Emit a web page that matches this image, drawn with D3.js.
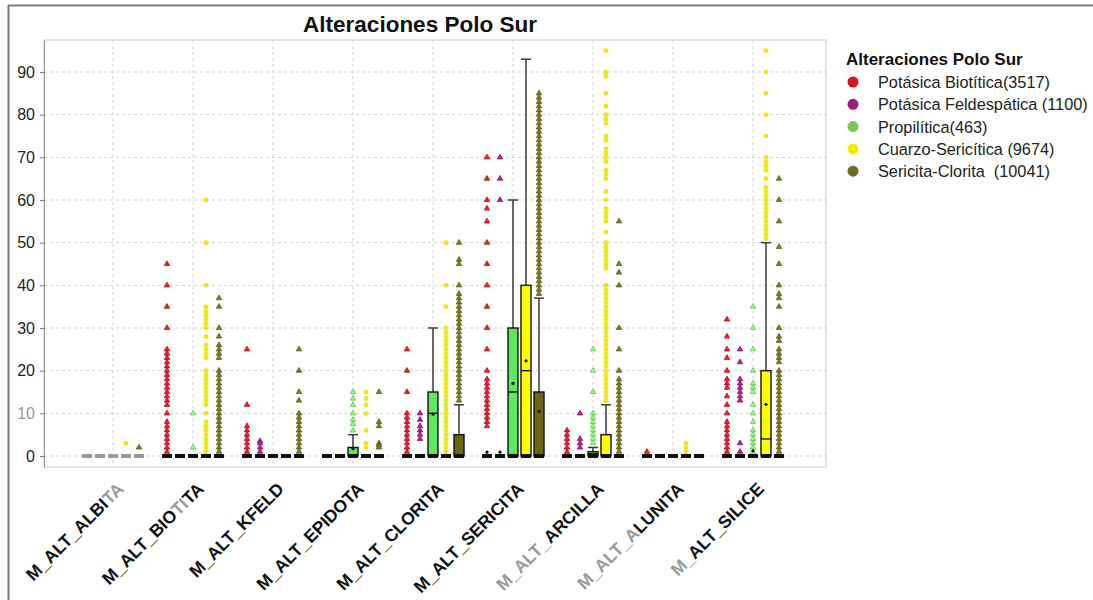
<!DOCTYPE html>
<html>
<head>
<meta charset="utf-8">
<script src="https://cdn.jsdelivr.net/npm/d3@7.9.0/dist/d3.min.js"></script>
<style>
  body { margin: 0; background: #fff; }
  text { font-family: "Liberation Sans", Arial, sans-serif; }
</style>
</head>
<body>
<svg id="chart" width="1093" height="600"></svg>
<script>
// ---- data ----
const categories = ["M_ALT_ALBITA", "M_ALT_BIOTITA", "M_ALT_KFELD", "M_ALT_EPIDOTA", "M_ALT_CLORITA",
  "M_ALT_SERICITA", "M_ALT_ARCILLA", "M_ALT_ALUNITA", "M_ALT_SILICE"];
const series = ["Potásica Biotítica", "Potásica Feldespática", "Propilítica", "Cuarzo-Sericítica", "Sericita-Clorita"];
const seriesCounts = ["(3517)", "(1100)", "(463)", "(9674)", "(10041)"];
const yTicks = [0, 10, 20, 30, 40, 50, 60, 70, 80, 90];

// [category, series, q1, median, q3, whiskerLow, whiskerHigh, mean]
// every other category/series pair is a flat box at 0
const boxStats = [
  ["M_ALT_EPIDOTA", "Propilítica", 0, 0, 2, 0, 5, 1.7],
  ["M_ALT_CLORITA", "Propilítica", 0, 10, 15, 0, 30, 9.8],
  ["M_ALT_CLORITA", "Sericita-Clorita", 0, 0, 5, 0, 12, null],
  ["M_ALT_SERICITA", "Potásica Biotítica", 0, 0, 0, 0, 0, 0.9],
  ["M_ALT_SERICITA", "Potásica Feldespática", 0, 0, 0, 0, 0, 0.9],
  ["M_ALT_SERICITA", "Propilítica", 0, 15, 30, 0, 60, 17],
  ["M_ALT_SERICITA", "Cuarzo-Sericítica", 0, 20, 40, 0, 93, 22.3],
  ["M_ALT_SERICITA", "Sericita-Clorita", 0, 0, 15, 0, 37, 10.5],
  ["M_ALT_ARCILLA", "Propilítica", 0, 0.5, 1, 0, 2, null],
  ["M_ALT_ARCILLA", "Cuarzo-Sericítica", 0, 0, 5, 0, 12, null],
  ["M_ALT_SILICE", "Propilítica", 0, 0, 0, 0, 0, 1.2],
  ["M_ALT_SILICE", "Cuarzo-Sericítica", 0, 4, 20, 0, 50, 12.1]
];

// outliers, one list per category (same order as categories)
const ptsBiotitica = [
  [],
  [45, 40, 35, 30, 25, 24, 23, 22, 21, 20, 19, 18, 17, 16, 15, 14, 13, 12, 10, 8, 7, 6, 5, 4, 3, 2, 1],
  [25, 12, 7, 6, 5, 4, 3, 2, 1],
  [],
  [25, 20, 15, 10, 9, 8, 7, 6, 5, 4, 3, 2, 1],
  [70, 65, 60, 58, 55, 50, 45, 40, 35, 30, 25, 20, 18, 17, 16, 15, 14, 13, 12, 11, 10, 9, 8, 7],
  [6, 5, 4, 3, 2, 1],
  [1],
  [32, 28, 25, 23, 20, 18, 17, 16, 14, 12, 10, 8, 7, 6, 5, 4, 3, 2, 1]
];
const ptsFeldespatica = [
  [], [], [3.5, 3, 2, 1], [],
  [10, 8.5, 7, 6, 5, 4],
  [70, 65, 60],
  [10, 4, 3, 2],
  [],
  [25, 22, 18, 17, 16, 15, 14, 13, 3, 1]
];
const ptsPropilitica = [
  [], [10, 2], [],
  [15, 13.5, 12, 10, 8.5, 7.5, 6],
  [], [],
  [25, 20, 15, 10, 9, 8, 7, 6, 5, 4, 3],
  [],
  [35, 30, 25, 20, 17, 16, 15, 12, 10, 8, 6, 5, 4, 3, 2, 1]
];
const ptsCuarzoSericitica = [
  [3],
  [60, 50, 40, 35, 34, 33, 32, 31, 30, 28, 26, 25, 24, 23, 20, 19, 18, 17, 16, 15, 14, 13, 12, 10, 8, 7, 6, 5, 4, 3, 2, 1],
  [],
  [15, 13.5, 12, 10, 6, 3, 2],
  [50, 40, 35, 30, 29, 28, 27, 26, 25, 24, 23, 22, 21, 20, 19, 18, 17, 16, 15, 14, 13, 12, 11, 10, 9, 8, 7, 6, 5, 4, 3, 2, 1],
  [],
  [95, 90, 89, 85, 82, 80, 79, 78, 75, 74, 72, 71, 70, 69, 67, 66, 65, 62, 60, 58, 57, 56, 55, 52.5,
   50, 49, 48, 47, 46, 45, 44, 40, 39, 38, 37, 36, 35, 34, 33, 32, 31, 30, 29, 28, 27, 26, 25, 24,
   23, 22, 21, 20, 19, 18, 17, 16, 15, 14, 13],
  [3, 2, 1],
  [95, 90, 85, 80, 75, 70, 69, 68, 67, 65, 63, 62, 61, 60, 59, 58, 57, 56, 55, 54, 53, 52, 51]
];
const ptsSericitaClorita = [
  [2],
  [37, 35, 30, 28, 26, 25, 24, 23, 20, 19, 18, 17, 16, 15, 14, 13, 12, 11, 10, 9, 8, 7, 6, 5, 4, 3, 2, 1],
  [25, 20, 15, 13, 10, 9, 8, 7, 6, 5, 4, 3, 2, 1],
  [15, 8, 7, 3, 2.5, 2],
  [50, 46, 45, 40, 38, 37, 36, 35, 34, 33, 32, 31, 30, 29, 28, 27, 26, 25, 24, 23, 22, 21, 20, 19,
   18, 17, 16, 15, 14, 13],
  [85, 84, 83, 82, 81, 80, 79, 78, 77, 76, 75, 74, 73, 72, 71, 70, 69, 68, 67, 66, 65, 64, 63, 62,
   61, 60, 59, 58, 57, 56, 55, 54, 53, 52, 51, 50, 49, 48, 47, 46, 45, 44, 43, 42, 41, 40, 39, 38],
  [55, 45, 43, 40, 30, 25, 20, 18, 17, 16, 15, 14, 13, 12, 11, 10, 9, 8, 7, 6, 5, 4, 3, 2, 1],
  [],
  [65, 60, 55, 49, 45, 40, 38, 37, 35, 30, 28, 27, 25, 24, 23, 22, 20, 19, 18, 17, 16, 15, 14, 13,
   12, 11, 10, 9, 8, 7, 6, 5, 4, 3, 2, 1]
];
const outliers = [ptsBiotitica, ptsFeldespatica, ptsPropilitica, ptsCuarzoSericitica, ptsSericitaClorita];

// ---- styles ----
const markColor = ["#cc1626", "#9a1c7e", "#79dc6a", "#f0ea00", "#6b6a1a"];
const legendColor = ["#d4141e", "#9b1d7e", "#7cc450", "#f0ec00", "#6b6b1e"];
const boxFill = ["#d4141e", "#9b1d7e", "#5ee85e", "#ffff00", "#6b6610"];

const svg = d3.select("#chart");

// window frame
svg.append("line").attr("x1", 8).attr("x2", 1093).attr("y1", 5.5).attr("y2", 5.5)
  .attr("stroke", "#7a7a7a").attr("stroke-width", 2);
svg.append("line").attr("x1", 8.5).attr("x2", 8.5).attr("y1", 5).attr("y2", 600)
  .attr("stroke", "#7a7a7a").attr("stroke-width", 2);

// plot area
const plot = { left: 44, right: 826, top: 40, bottom: 467 };
const y = d3.scaleLinear().domain([-2.58, 97.5]).range([plot.bottom, plot.top]);
const x = d3.scaleBand().domain(categories).range([73, 793]);
const xs = d3.scaleBand().domain(series).range([-32.5, 32.5]);
const cx = c => x(c) + x.bandwidth() / 2;
const sx = (c, s) => cx(c) + xs(s) + xs.bandwidth() / 2;

// grid
const grid = svg.append("g").attr("stroke", "#d2d2d2").attr("stroke-dasharray", "3,3");
grid.selectAll("line.h").data(yTicks).enter().append("line")
  .attr("x1", plot.left).attr("x2", plot.right)
  .attr("y1", d => y(d)).attr("y2", d => y(d));
grid.selectAll("line.v").data(categories).enter().append("line")
  .attr("x1", d => cx(d)).attr("x2", d => cx(d))
  .attr("y1", plot.top).attr("y2", plot.bottom);

svg.append("rect")
  .attr("x", plot.left).attr("y", plot.top)
  .attr("width", plot.right - plot.left).attr("height", plot.bottom - plot.top)
  .attr("fill", "none").attr("stroke", "#c8c8c8");

// y axis
const yAxis = svg.append("g")
  .attr("transform", `translate(${plot.left},0)`)
  .call(d3.axisLeft(y).tickValues(yTicks).tickSize(4).tickPadding(5).tickSizeOuter(0));
yAxis.select(".domain").attr("stroke", "#9a9a9a");
yAxis.selectAll(".tick line").attr("stroke", "#777");
yAxis.selectAll(".tick text")
  .attr("font-size", 16).attr("fill", d => d === 10 ? "#999" : "#222")
  .style("font-family", "'Liberation Sans', Arial, sans-serif");

// outlier marks
const tri = d3.symbol().type(d3.symbolTriangle).size(13);
const dot = d3.symbol().type(d3.symbolCircle).size(13);
series.forEach((s, si) => {
  const pts = [];
  outliers[si].forEach((vals, ci) => vals.forEach(v => pts.push({ c: categories[ci], v })));
  const col = markColor[si];
  svg.append("g").selectAll("path").data(pts).enter().append("path")
    .attr("transform", d => `translate(${sx(d.c, s)},${y(d.v)})`)
    .attr("d", si === 3 ? dot : tri)
    .attr("fill", d3.color(col).brighter(si === 3 ? 0 : 0.5))
    .attr("stroke", d3.color(col).darker(si === 3 ? 0.1 : 0.4))
    .attr("stroke-width", 0.8);
});

// boxes
const boxW = 10;
const boxes = [];
categories.forEach(c => series.forEach((s, si) => {
  const st = boxStats.find(b => b[0] === c && b[1] === s);
  boxes.push(st
    ? { c, s, si, q1: st[2], med: st[3], q3: st[4], lo: st[5], hi: st[6], mean: st[7] }
    : { c, s, si, q1: 0, med: 0, q3: 0, lo: 0, hi: 0, mean: null });
}));

const bg = svg.append("g");
boxes.forEach(b => {
  const xc = sx(b.c, b.s);
  const grey = b.c === "M_ALT_ALBITA";
  if (b.q3 === b.q1) {
    bg.append("rect")
      .attr("x", xc - boxW / 2).attr("y", y(b.q1) - 2)
      .attr("width", boxW).attr("height", 4)
      .attr("fill", grey ? "#9a9a9a" : "#111");
  } else {
    if (b.hi > b.q3) {
      bg.append("line").attr("x1", xc).attr("x2", xc)
        .attr("y1", y(b.q3)).attr("y2", y(b.hi))
        .attr("stroke", "#3a3a3a").attr("stroke-width", 1.5);
      bg.append("line").attr("x1", xc - 5).attr("x2", xc + 5)
        .attr("y1", y(b.hi)).attr("y2", y(b.hi))
        .attr("stroke", "#3a3a3a").attr("stroke-width", 1.5);
    }
    bg.append("rect")
      .attr("x", xc - boxW / 2).attr("y", y(b.q3))
      .attr("width", boxW).attr("height", y(b.q1) - y(b.q3))
      .attr("fill", boxFill[b.si]).attr("stroke", "#111").attr("stroke-width", 1.4);
    bg.append("line").attr("x1", xc - boxW / 2).attr("x2", xc + boxW / 2)
      .attr("y1", y(b.med)).attr("y2", y(b.med))
      .attr("stroke", "#111").attr("stroke-width", 1.4);
    bg.append("rect")
      .attr("x", xc - boxW / 2).attr("y", y(0) - 2)
      .attr("width", boxW).attr("height", 4).attr("fill", "#111");
  }
  if (b.mean != null) {
    bg.append("circle").attr("cx", xc).attr("cy", y(b.mean)).attr("r", 1.6).attr("fill", "#111");
  }
});

// x labels (rotated), some parts look washed out in the source picture
const labelParts = {
  "M_ALT_ALBITA": [["M_ALT_ALBI", 0], ["TA", 1]],
  "M_ALT_BIOTITA": [["M_ALT_BIO", 0], ["TI", 1], ["TA", 0]],
  "M_ALT_ARCILLA": [["M_ALT_", 1], ["ARCILLA", 0]],
  "M_ALT_ALUNITA": [["M_ALT_A", 1], ["LUNITA", 0]],
  "M_ALT_SILICE": [["M_", 1], ["ALT_SILICE", 0]]
};
categories.forEach(c => {
  const t = svg.append("text")
    .attr("transform", `translate(${cx(c) + 12},490) rotate(-45)`)
    .attr("text-anchor", "end")
    .attr("font-size", 17.5).attr("font-weight", "bold");
  (labelParts[c] || [[c, 0]]).forEach(p => {
    t.append("tspan").attr("fill", p[1] ? "#9a9a9a" : "#111").text(p[0]);
  });
});

// title
svg.append("text").attr("x", 420).attr("y", 32).attr("text-anchor", "middle")
  .attr("font-size", 22.5).attr("font-weight", "bold").attr("fill", "#111")
  .text("Alteraciones Polo Sur");

// legend
const legend = svg.append("g");
legend.append("text").attr("x", 846).attr("y", 65)
  .attr("font-size", 17).attr("font-weight", "bold").attr("fill", "#111")
  .text("Alteraciones Polo Sur");
const labels = ["Potásica Biotítica(3517)", "Potásica Feldespática (1100)", "Propilítica(463)",
  "Cuarzo-Sericítica (9674)", "Sericita-Clorita  (10041)"];
series.forEach((s, i) => {
  const ly = 82 + i * 22.3;
  legend.append("circle").attr("cx", 853).attr("cy", ly).attr("r", 5.5).attr("fill", legendColor[i]);
  legend.append("text").attr("x", 878).attr("y", ly + 6)
    .attr("font-size", 16.3).attr("fill", "#222").style("white-space", "pre")
    .text(labels[i]);
});
</script>
</body>
</html>
